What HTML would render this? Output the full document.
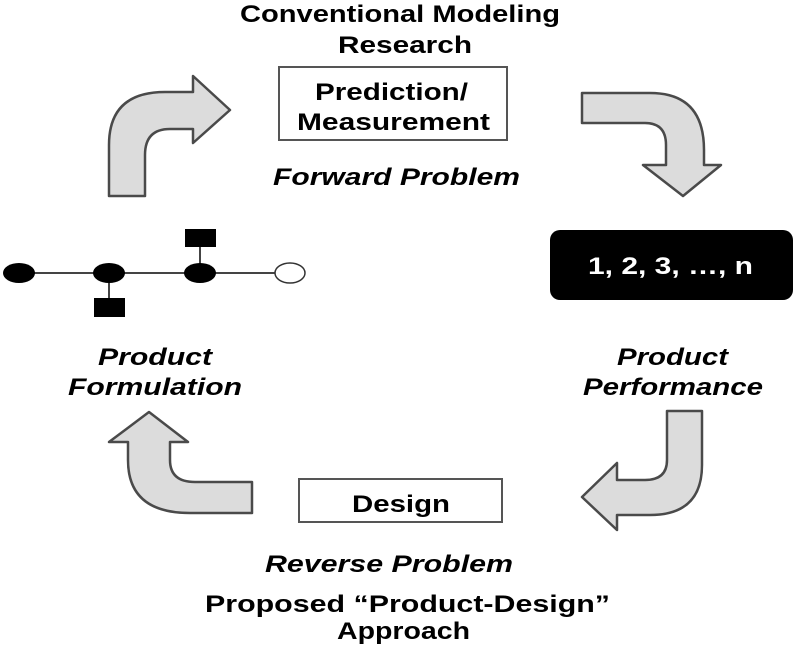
<!DOCTYPE html>
<html><head><style>
body{margin:0;background:#fff;}
svg text{font-family:"Liberation Sans",Arial,sans-serif;font-weight:bold;font-size:24px;fill:#000;}
.i{font-style:italic;}
</style></head><body>
<svg width="797" height="663" viewBox="0 0 797 663" xmlns="http://www.w3.org/2000/svg">
<g fill="#dcdcdc" stroke="#4a4a4a" stroke-width="2.5" stroke-linejoin="round">
<path d="M109,196 L109,145 Q109,92 165,92 L193,92 L193,76 L230,110 L193,143 L193,129 L170,129 Q145,129 145,155 L145,196 Z"/>
<path d="M582,93 L650,93 Q704,93 704,150 L704,165 L721,165 L683,196 L643,165 L666,165 L666,145 Q666,123 645,123 L582,123 Z"/>
<path d="M702,411 L702,465 Q702,515 650,515 L617,515 L617,530 L582,497 L617,463 L617,480 L645,480 Q667,480 667,460 L667,411 Z"/>
<path d="M149,412 L188,442 L170,442 L170,460 Q170,482 195,482 L252,482 L252,513 L190,513 Q128,513 128,460 L128,442 L109,442 Z"/>
</g>
<rect x="279" y="67" width="228" height="73" fill="#fff" stroke="#555" stroke-width="2"/>
<rect x="299" y="479" width="203" height="43" fill="#fff" stroke="#555" stroke-width="2"/>
<rect x="550" y="230" width="243" height="70" rx="10" fill="#000"/>
<g stroke="#444" stroke-width="2">
<line x1="19" y1="273" x2="275" y2="273"/>
<line x1="109" y1="273" x2="109" y2="300"/>
<line x1="200" y1="273" x2="200" y2="246"/>
</g>
<ellipse cx="19" cy="273" rx="16" ry="10"/>
<ellipse cx="109" cy="273" rx="16" ry="10"/>
<ellipse cx="200" cy="273" rx="16" ry="10"/>
<ellipse cx="290" cy="273" rx="15" ry="10" fill="#fff" stroke="#333" stroke-width="1.5"/>
<rect x="185" y="229" width="31" height="18"/>
<rect x="94" y="298" width="31" height="19"/>
<text x="240" y="22" textLength="320" lengthAdjust="spacingAndGlyphs">Conventional Modeling</text>
<text x="338" y="53" textLength="134" lengthAdjust="spacingAndGlyphs">Research</text>
<text x="315" y="100" textLength="153" lengthAdjust="spacingAndGlyphs">Prediction/</text>
<text x="297" y="130" textLength="193" lengthAdjust="spacingAndGlyphs">Measurement</text>
<text x="273" y="185" class="i" textLength="247" lengthAdjust="spacingAndGlyphs">Forward Problem</text>
<text x="588" y="274" style="fill:#fff" textLength="165" lengthAdjust="spacingAndGlyphs">1, 2, 3, …, n</text>
<text x="98" y="365" class="i" textLength="114" lengthAdjust="spacingAndGlyphs">Product</text>
<text x="68" y="395" class="i" textLength="174" lengthAdjust="spacingAndGlyphs">Formulation</text>
<text x="617" y="365" class="i" textLength="111" lengthAdjust="spacingAndGlyphs">Product</text>
<text x="583" y="395" class="i" textLength="180" lengthAdjust="spacingAndGlyphs">Performance</text>
<text x="352" y="512" textLength="98" lengthAdjust="spacingAndGlyphs">Design</text>
<text x="265" y="572" class="i" textLength="248" lengthAdjust="spacingAndGlyphs">Reverse Problem</text>
<text x="205" y="612" textLength="405" lengthAdjust="spacingAndGlyphs">Proposed “Product-Design”</text>
<text x="337" y="639" textLength="133" lengthAdjust="spacingAndGlyphs">Approach</text>
</svg>
</body></html>
